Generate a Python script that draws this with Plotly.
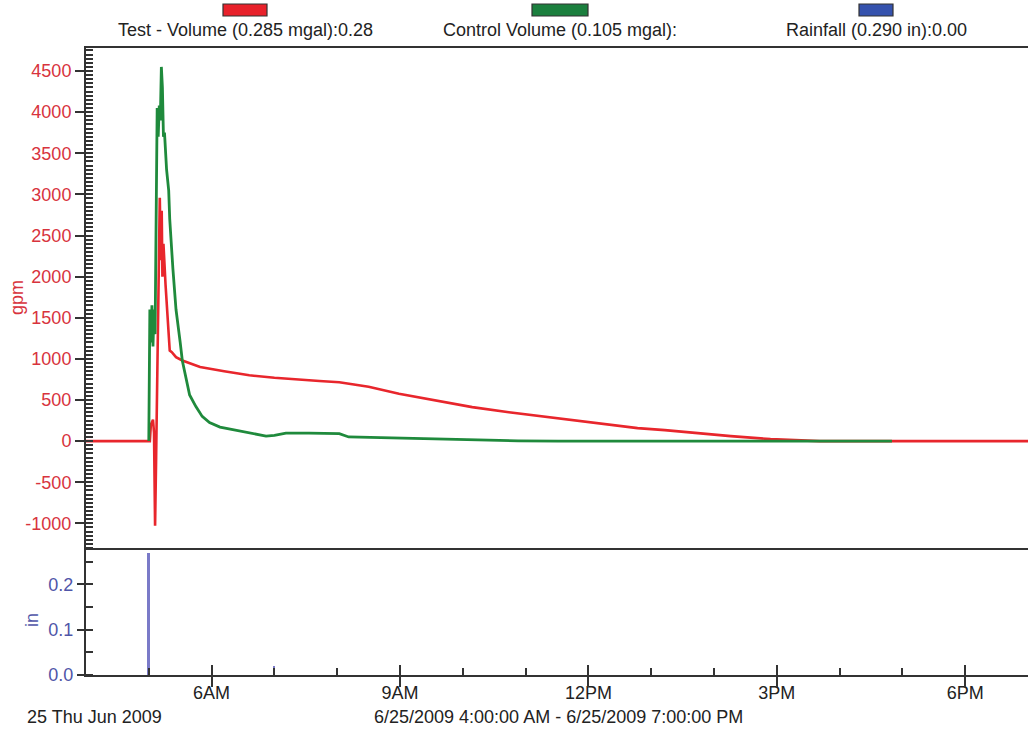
import plotly.graph_objects as go

DAY = "2009-06-25 "

# ---- data ----
test_times = ["04:00", "05:01", "05:02", "05:04", "05:05", "05:06", "05:07", "05:09", "05:10:30", "05:11:30",
              "05:12:20", "05:13", "05:14", "05:16", "05:18", "05:20", "05:22", "05:26", "05:32", "05:49",
              "06:12", "06:36", "07:00", "07:24", "07:43", "08:02", "08:30", "08:59", "09:28", "10:09",
              "10:44", "11:28", "12:09", "12:47", "13:13", "13:44", "14:16", "14:54", "15:20", "15:41",
              "19:00"]
test_gpm = [0, 0, 200, 260, 100, -1030, -200, 2000, 2960, 2200,
            2800, 2000, 2400, 1900, 1500, 1100, 1080, 1020, 980, 900,
            850, 800, 770, 745, 730, 716, 660, 575, 510, 413,
            350, 280, 218, 158, 133, 95, 60, 24, 10, 0,
            0]

control_times = ["05:00", "05:01", "05:02", "05:03", "05:04", "05:05", "05:06", "05:07", "05:08", "05:09",
                 "05:10", "05:11", "05:12", "05:13", "05:14", "05:15", "05:17", "05:19", "05:20", "05:23",
                 "05:26", "05:30", "05:32", "05:39", "05:45", "05:51", "05:58", "06:08", "06:24", "06:39",
                 "06:52", "07:00", "07:11", "07:33", "07:55", "08:02", "08:11", "08:59", "10:09", "10:53",
                 "11:31", "16:50"]
control_gpm = [0, 1600, 1200, 1650, 1150, 1600, 1300, 3000, 4050, 3700,
               4080, 3900, 4550, 4300, 3700, 3750, 3300, 3050, 2700, 2100,
               1600, 1200, 980, 560, 420, 300, 225, 170, 133, 97,
               60, 70, 97, 97, 85, 90, 50, 36, 12, 3,
               0, 0]

rain_times = ["05:00", "07:00"]
rain_in = [0.27, 0.02]

x_tickvals = ["06:00", "09:00", "12:00", "15:00", "18:00"]
x_ticktext = ["6AM", "9AM", "12PM", "3PM", "6PM"]
gpm_tickvals = [-1000, -500, 0, 500, 1000, 1500, 2000, 2500, 3000, 3500, 4000, 4500]
gpm_ticktext = ["-1000", "-500", "0", "500", "1000", "1500", "2000", "2500", "3000", "3500", "4000", "4500"]
in_tickvals = [0.0, 0.1, 0.2]
in_ticktext = ["0.0", "0.1", "0.2"]

legend_labels = ["Test - Volume (0.285 mgal):0.28", "Control Volume (0.105 mgal):", "Rainfall (0.290 in):0.00"]
legend_colors = ["#e8212b", "#1b7f3e", "#3552ad"]

# ---- styling ----
RED = "#e8262c"
GREEN = "#1f8a3c"
RAIN = "#7a7ac8"
RED_TXT = "#d8333d"
BLUE_TXT = "#4f55a8"
AX = "#333333"
FONT = "Liberation Sans, Arial, sans-serif"

W, H = 1028, 734
L, R, T, B = 86, 0, 48, 59
PW, PH = W - L - R, H - T - B
split = 127 / PH


def px_x(p):
    return (p - L) / PW


def px_y(p):
    return (H - B - p) / PH


def dt(lst):
    return [DAY + s for s in lst]


fig = go.Figure()

fig.add_trace(go.Scatter(x=dt(test_times), y=test_gpm, mode="lines",
                         line=dict(color=RED, width=2.6), xaxis="x2", yaxis="y2",
                         showlegend=False, hoverinfo="skip"))
fig.add_trace(go.Scatter(x=dt(control_times), y=control_gpm, mode="lines",
                         line=dict(color=GREEN, width=2.8), xaxis="x2", yaxis="y2",
                         showlegend=False, hoverinfo="skip"))
fig.add_trace(go.Bar(x=dt(rain_times), y=rain_in, width=100000,
                     marker=dict(color=RAIN, line=dict(width=0)), xaxis="x", yaxis="y",
                     showlegend=False, hoverinfo="skip"))

xrange = [DAY + "04:00", DAY + "19:00"]

fig.update_layout(
    width=W, height=H, autosize=False,
    margin=dict(l=L, r=R, t=T, b=B, pad=0),
    paper_bgcolor="white", plot_bgcolor="white",
    font=dict(family=FONT, size=18, color="#222"),
    showlegend=False,
    bargap=0,
    xaxis=dict(domain=[0, 1], anchor="y", type="date", range=xrange,
               tickvals=dt(x_tickvals), ticktext=x_ticktext,
               ticks="inside", ticklen=10, tickwidth=2, tickcolor=AX,
               showline=True, linecolor=AX, linewidth=2, mirror=False,
               showgrid=False, zeroline=False,
               tickfont=dict(size=18, color="#222"),
               minor=dict(ticks="inside", ticklen=7, tickwidth=1.5, tickcolor=AX,
                          dtick=3600000, showgrid=False)),
    xaxis3=dict(overlaying="x", anchor="y", type="date", range=xrange,
                tickvals=dt(x_tickvals), showticklabels=False,
                ticks="outside", ticklen=11, tickwidth=2, tickcolor=AX,
                showline=False, showgrid=False, zeroline=False),
    xaxis2=dict(domain=[0, 1], anchor="y2", type="date", range=xrange,
                showticklabels=False, ticks="",
                showline=True, linecolor=AX, linewidth=2, mirror=True,
                showgrid=False, zeroline=False),
    yaxis=dict(domain=[0, split], anchor="x", range=[0, 0.28],
               tickvals=in_tickvals, ticktext=in_ticktext,
               ticks="outside", ticklen=7, tickwidth=2, tickcolor=AX,
               showline=True, linecolor=AX, linewidth=2,
               showgrid=False, zeroline=False,
               tickfont=dict(size=18, color=BLUE_TXT),
               minor=dict(ticks="inside", ticklen=7, tickwidth=2, tickcolor=AX,
                          dtick=0.05, tick0=0, showgrid=False)),
    yaxis3=dict(overlaying="y", anchor="x", range=[0, 0.28], tickvals=in_tickvals,
                showticklabels=False, ticks="inside", ticklen=7, tickwidth=2, tickcolor=AX,
                showline=False, showgrid=False, zeroline=False),
    yaxis2=dict(domain=[split, 1], anchor="x2", range=[-1300, 4780],
                tickvals=gpm_tickvals, ticktext=gpm_ticktext,
                ticks="outside", ticklen=9, tickwidth=2, tickcolor=AX,
                showline=True, linecolor=AX, linewidth=2,
                showgrid=False, zeroline=False,
                tickfont=dict(size=18, color=RED_TXT),
                minor=dict(ticks="inside", ticklen=7, tickwidth=1.5, tickcolor=AX,
                           dtick=50, tick0=0, showgrid=False)),
    yaxis4=dict(overlaying="y2", anchor="x2", range=[-1300, 4780], tickvals=gpm_tickvals,
                showticklabels=False, ticks="inside", ticklen=7, tickwidth=2, tickcolor=AX,
                showline=False, showgrid=False, zeroline=False),
)

# empty traces so the overlay axes (used only for crossing tick marks) render
fig.add_trace(go.Scatter(x=[], y=[], xaxis="x3", yaxis="y3", showlegend=False))
fig.add_trace(go.Scatter(x=[], y=[], xaxis="x2", yaxis="y4", showlegend=False))

annotations = []
shapes = []
legend_centers = [245, 560, 876]
legend_widths = [44, 56, 34]
for lab, col, cx, w in zip(legend_labels, legend_colors, legend_centers, legend_widths):
    shapes.append(dict(type="rect", xref="paper", yref="paper",
                       x0=px_x(cx - w / 2), x1=px_x(cx + w / 2),
                       y0=px_y(16), y1=px_y(4),
                       fillcolor=col, line=dict(color="#333", width=1.2)))
    annotations.append(dict(text=lab, xref="paper", yref="paper", x=px_x(cx), y=px_y(30),
                            xanchor="center", yanchor="middle", showarrow=False,
                            font=dict(size=18, color="#222")))

annotations.append(dict(text="gpm", xref="paper", yref="paper", x=px_x(17), y=px_y(298),
                        xanchor="center", yanchor="middle", textangle=-90, showarrow=False,
                        font=dict(size=18, color=RED_TXT)))
annotations.append(dict(text="in", xref="paper", yref="paper", x=px_x(32), y=px_y(620),
                        xanchor="center", yanchor="middle", textangle=-90, showarrow=False,
                        font=dict(size=18, color=BLUE_TXT)))
annotations.append(dict(text="25 Thu Jun 2009", xref="paper", yref="paper", x=px_x(25), y=px_y(717),
                        xanchor="left", yanchor="middle", showarrow=False,
                        font=dict(size=18, color="#222")))
annotations.append(dict(text="6/25/2009 4:00:00 AM - 6/25/2009 7:00:00 PM", xref="paper", yref="paper",
                        x=px_x(558), y=px_y(717), xanchor="center", yanchor="middle", showarrow=False,
                        font=dict(size=18, color="#222")))

fig.update_layout(annotations=annotations, shapes=shapes)

fig.write_html("out.html", config={"displayModeBar": False},
               post_script="document.body.style.margin='0';")
